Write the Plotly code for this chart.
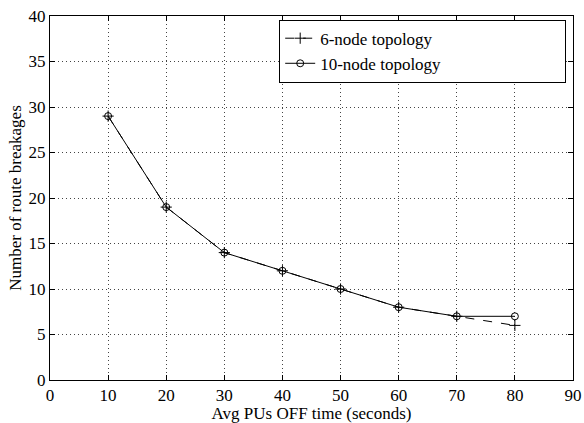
import plotly.graph_objects as go

x_vals = [10, 20, 30, 40, 50, 60, 70, 80]
six_node = [29, 19, 14, 12, 10, 8, 7, 6]
ten_node = [29, 19, 14, 12, 10, 8, 7, 7]
x_ticks = [0, 10, 20, 30, 40, 50, 60, 70, 80, 90]
y_ticks = [0, 5, 10, 15, 20, 25, 30, 35, 40]

font = dict(family="Liberation Serif, Times New Roman, serif", size=17, color="black")

fig = go.Figure()
fig.add_trace(go.Scatter(
    x=x_vals, y=six_node, name="6-node topology", mode="lines+markers",
    line=dict(color="black", width=1, dash="dash"),
    marker=dict(symbol="cross-thin", size=8, line=dict(color="black", width=1)),
))
fig.add_trace(go.Scatter(
    x=x_vals, y=ten_node, name="10-node topology", mode="lines+markers",
    line=dict(color="black", width=1),
    marker=dict(symbol="circle-open", size=7, color="black", line=dict(width=1)),
))

axis_common = dict(
    showline=True, linecolor="black", linewidth=1, mirror="ticks",
    ticks="inside", ticklen=5, tickcolor="black",
    showgrid=True, gridcolor="#444444", griddash="1px,3px", gridwidth=1,
    zeroline=False, tickfont=font, automargin=False,
)
fig.update_xaxes(range=[0, 90], tickvals=x_ticks,
                 title=dict(text="Avg PUs OFF time (seconds)", font=font, standoff=2),
                 **axis_common)
fig.update_yaxes(range=[0, 40], tickvals=y_ticks,
                 title=dict(text="Number of route breakages", font=font, standoff=2),
                 **axis_common)

fig.update_layout(
    width=584, height=423,
    margin=dict(l=50, r=11, t=16, b=43),
    plot_bgcolor="white", paper_bgcolor="white",
    font=font,
    legend=dict(x=0.987, y=0.99, xanchor="right", yanchor="top",
                orientation="h",
                bordercolor="black", borderwidth=1, bgcolor="white",
                font=font, tracegroupgap=0, entrywidth=240, entrywidthmode="pixels"),
)

fig.write_html("out.html")
